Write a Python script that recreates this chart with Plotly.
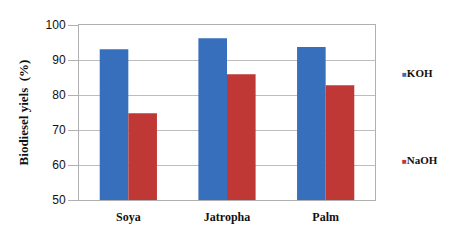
import plotly.graph_objects as go

categories = ["Soya", "Jatropha", "Palm"]
koh = [93.1, 96.2, 93.7]
naoh = [74.8, 85.9, 82.8]
yticks = [50, 60, 70, 80, 90, 100]
series_names = ["KOH", "NaOH"]
colors = ["#376fbd", "#c03836"]

fig = go.Figure()
fig.add_trace(go.Bar(x=categories, y=koh, name=series_names[0], marker=dict(color=colors[0], line=dict(width=0)), showlegend=False))
fig.add_trace(go.Bar(x=categories, y=naoh, name=series_names[1], marker=dict(color=colors[1], line=dict(width=0)), showlegend=False))

serif = "Liberation Serif"
# page body has an 8px margin, so the figure is sized/offset to compensate
legend_y = [0.726, 0.229]
for name, col, yy in zip(series_names, colors, legend_y):
    fig.add_annotation(
        x=1.084, y=yy, xref="paper", yref="paper", xanchor="left", yanchor="middle", showarrow=False,
        text=f"<span style='color:{col};font-size:8px'>■</span><b>{name}</b>",
        font=dict(family=serif, size=11, color="#111"),
    )

fig.update_layout(
    width=445, height=236,
    margin=dict(l=71, r=78, t=17, b=44, autoexpand=False),
    paper_bgcolor="white", plot_bgcolor="white",
    barmode="group", bargap=0.42, bargroupgap=0,
    xaxis=dict(tickfont=dict(family=serif, size=12, color="#111"), showline=True, linecolor="#b0b0b0",
               linewidth=1, mirror=True, ticks="", tickprefix="<b>", ticksuffix="</b>", ticklabelstandoff=6),
    yaxis=dict(range=[50, 100], tickvals=yticks, tickfont=dict(family="Liberation Sans", size=12, color="#111"),
               tickprefix="<b>", ticksuffix="</b>", ticklabelstandoff=0,
               showgrid=True, gridcolor="#bdbdbd", gridwidth=1,
               showline=True, linecolor="#b0b0b0", linewidth=1, mirror=True,
               ticks="outside", ticklen=10, tickcolor="#b0b0b0",
               title=dict(text="<b>Biodiesel yiels  (%)</b>", font=dict(family=serif, size=13, color="#111"), standoff=14)),
)
fig.write_html("out.html")
